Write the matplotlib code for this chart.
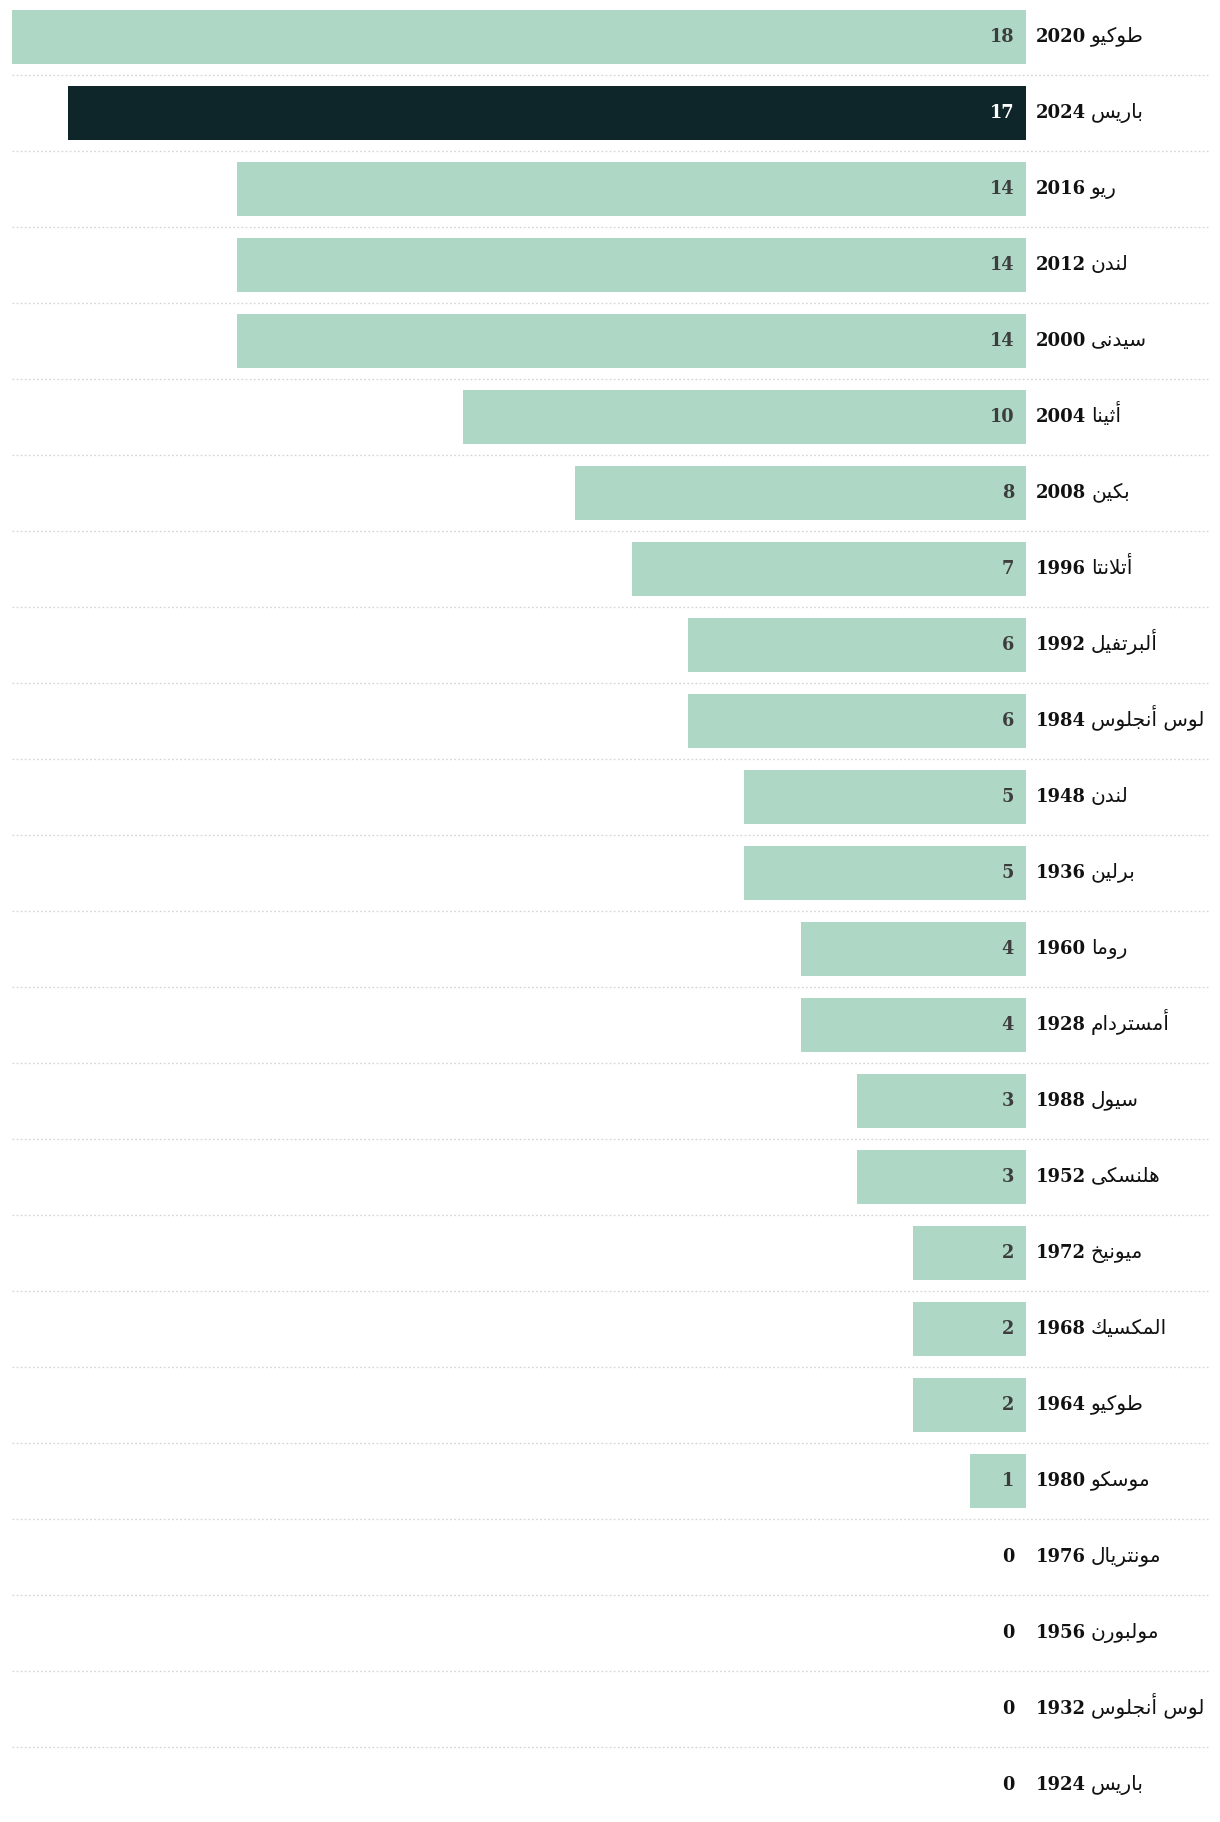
import matplotlib
matplotlib.use('Agg')
import matplotlib.pyplot as plt
import matplotlib.transforms as mtransforms

# Dados (medalhas por edição)
anos = ['2020', '2024', '2016', '2012', '2000', '2004', '2008', '1996', '1992', '1984',
        '1948', '1936', '1960', '1928', '1988', '1952', '1972', '1968', '1964', '1980',
        '1976', '1956', '1932', '1924']
cidades = ['طوكيو', 'باريس', 'ريو', 'لندن', 'سيدنى', 'أثينا', 'بكين', 'أتلانتا', 'ألبرتفيل',
           'لوس أنجلوس', 'لندن', 'برلين', 'روما', 'أمستردام', 'سيول', 'هلنسكى', 'ميونيخ',
           'المكسيك', 'طوكيو', 'موسكو', 'مونتريال', 'مولبورن', 'لوس أنجلوس', 'باريس']
valores = [18, 17, 14, 14, 14, 10, 8, 7, 6, 6, 5, 5, 4, 4, 3, 3, 2, 2, 2, 1, 0, 0, 0, 0]
destaque = '2024'

VERDE = '#AED8C5'
ESCURO = '#0E2629'

# Formas de apresentação árabe: (isolada, liga dos dois lados?)
FORMAS = {
    'ا': (0xFE8D, False), 'أ': (0xFE83, False), 'ب': (0xFE8F, True), 'ت': (0xFE95, True),
    'ث': (0xFE99, True), 'ج': (0xFE9D, True), 'خ': (0xFEA5, True), 'د': (0xFEA9, False),
    'ر': (0xFEAD, False), 'س': (0xFEB1, True), 'ط': (0xFEC1, True), 'ف': (0xFED1, True),
    'ك': (0xFED9, True), 'ل': (0xFEDD, True), 'م': (0xFEE1, True), 'ن': (0xFEE5, True),
    'ه': (0xFEE9, True), 'و': (0xFEED, False), 'ى': (0xFEEF, False), 'ي': (0xFEF1, True),
}
LAM_ALEF = {'ا': 0xFEFB, 'أ': 0xFEF7}


def moldar(texto):
    # junta as letras árabes e devolve na ordem visual (esquerda -> direita)
    saida = []
    i = 0
    anterior_liga = False
    while i < len(texto):
        c = texto[i]
        if c not in FORMAS:
            saida.append(c)
            anterior_liga = False
            i += 1
            continue
        if c == 'ل' and i + 1 < len(texto) and texto[i + 1] in LAM_ALEF:
            base = LAM_ALEF[texto[i + 1]]
            saida.append(chr(base + 1 if anterior_liga else base))
            anterior_liga = False
            i += 2
            continue
        base, dupla = FORMAS[c]
        proximo_liga = dupla and i + 1 < len(texto) and texto[i + 1] in FORMAS
        if anterior_liga and proximo_liga:
            cod = base + 3
        elif anterior_liga:
            cod = base + 1
        elif proximo_liga:
            cod = base + 2
        else:
            cod = base
        saida.append(chr(cod))
        anterior_liga = dupla
        i += 1
    return ''.join(reversed(saida))


W, H = 1220, 1822
fig = plt.figure(figsize=(W / 100, H / 100), dpi=100)
ax = fig.add_axes([12 / W, 0, 1014 / W, 1])
n = len(valores)
ax.set_xlim(max(valores), 0)
ax.set_ylim(n - 1 + 0.487, -0.487)
ax.axis('off')

ys = list(range(n))
cores = [ESCURO if a == destaque else VERDE for a in anos]
ax.barh(ys, valores, height=54 / 76, color=cores, left=0)

# linhas pontilhadas entre as linhas
mistura = mtransforms.blended_transform_factory(fig.transFigure, ax.transData)
seps = [y + 0.5 for y in ys[:-1]]
ax.hlines(seps, 12 / W, 1208 / W, transform=mistura, colors='#d4d4d4',
          linewidth=0.95, linestyles=(0, (1.3, 1.8)), clip_on=False)

for y, v, a, c in zip(ys, valores, anos, cidades):
    base_y = y + 0.06
    # valor dentro da barra
    if a == destaque:
        cor_v = 'white'
    elif v == 0:
        cor_v = '#111111'
    else:
        cor_v = '#3d3d3d'
    ax.annotate(str(v), xy=(0, base_y), xytext=(-8.6, 0), textcoords='offset points',
                ha='right', va='baseline', fontsize=12.8, fontweight='bold',
                family='DejaVu Serif', color=cor_v, annotation_clip=False)
    # ano + cidade
    t = ax.annotate(a, xy=(0, base_y), xytext=(7.2, 0), textcoords='offset points',
                    ha='left', va='baseline', fontsize=13, fontweight='bold',
                    family='DejaVu Serif', color='#111111', annotation_clip=False)
    ax.annotate(moldar(c), xy=(1, base_y), xycoords=(t, ax.transData),
                xytext=(3.5, 0), textcoords='offset points', ha='left', va='baseline',
                fontsize=14.5, family='DejaVu Sans', color='#111111', annotation_clip=False)

fig.savefig('out.png', dpi=100)
